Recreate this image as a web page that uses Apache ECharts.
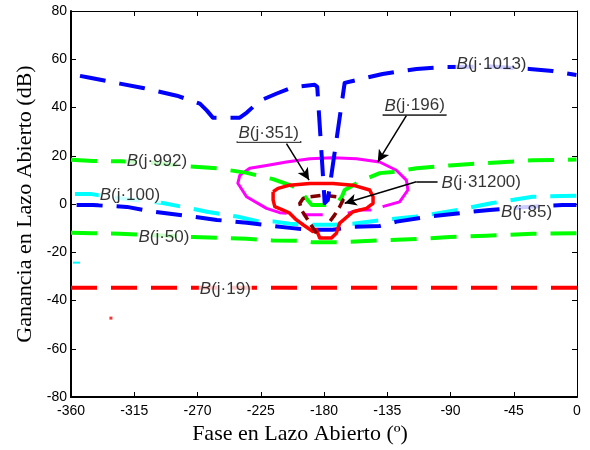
<!DOCTYPE html>
<html>
<head>
<meta charset="utf-8">
<script src="https://cdn.jsdelivr.net/npm/echarts@6/dist/echarts.min.js"></script>
<style>html,body{margin:0;padding:0;background:#fff}#c{width:590px;height:450px}</style>
</head>
<body>
<div id="c"></div>
<script>
// ---- Data (phase in degrees, gain in dB) ----
const xTicks = [-360, -315, -270, -225, -180, -135, -90, -45, 0];
const yTicks = [-80, -60, -40, -20, 0, 20, 40, 60, 80];

const bound1013 = [[-353.6,53.1],[-346.5,52.3],[-325.2,49.9],[-308.8,48.1],[-284.7,44.9],[-268.3,41.6],[-263.3,38.7],[-259.1,35.8],[-239.9,35.8],[-234.9,37.9],[-225.7,42.8],[-213.6,45.8],[-202.2,48.4],[-186.6,49.4],[-184.8,48.6],[-179.5,0.4],[-177.3,1.6],[-165.3,50.2],[-159.6,51.0],[-138.3,53.9],[-114.1,56.0],[-92.8,56.8],[-60.8,57.0],[-33.8,56.0],[-17.4,55.1],[-0.4,53.5]];
const bound992 = [[-360,18.3],[-344.4,17.8],[-325.2,17.7],[-300,17.0],[-276.8,15.6],[-256.2,14.8],[-234.9,12.9],[-216.4,10.3],[-202.2,7.4],[-197.2,5.8],[-191.6,1.6],[-188.7,-0.4],[-184.5,-0.4],[-178.1,-0.4],[-171.0,0.4],[-167.4,2.9],[-165.3,5.8],[-156.7,8.6],[-152.5,9.9],[-140.4,12.8],[-131.1,13.3],[-114.1,14.8],[-90.6,16.0],[-64.3,17.0],[-31.6,18.1],[-0.4,18.4]];
const bound100 = [[-357.2,4.1],[-345.3,4.1],[-320,2.0],[-294.6,0.4],[-280.4,-1.2],[-263.3,-3.2],[-242.0,-5.2],[-225.7,-7.3],[-215.0,-7.3],[-204.4,-8.2],[-188.0,-8.6],[-173.8,-8.6],[-159.6,-8.2],[-138.3,-6.6],[-114.3,-5.2],[-97.7,-3.7],[-81.4,-2.1],[-60.1,0.4],[-31.6,3.0],[-0.4,3.4]];
const bound85 = [[-356.0,-0.4],[-344.4,-0.4],[-320.2,-1.2],[-301.7,-3.2],[-277.6,-4.9],[-256.2,-6.6],[-234.9,-7.8],[-216.4,-9.1],[-204.4,-9.9],[-190.1,-10.7],[-173.8,-10.7],[-159.6,-9.5],[-140.4,-9.1],[-128.3,-7.3],[-104.8,-5.2],[-74.3,-3.2],[-62.2,-2.5],[-35.9,-1.2],[-10.3,-0.4],[-0.4,-0.4]];
const bound50 = [[-360,-11.9],[-344.4,-12.1],[-325.2,-12.3],[-300,-13.0],[-273.3,-13.7],[-256.2,-14.0],[-234.9,-14.4],[-216.4,-15.1],[-197.2,-15.2],[-188.0,-15.9],[-168.8,-15.9],[-140.4,-15.1],[-114.3,-14.5],[-90.6,-13.7],[-64.6,-13.2],[-31.6,-12.3],[-0.4,-12.1]];
const bound19 = [[-360,-34.7],[-270,-34.7],[-180,-34.7],[-90,-34.7],[0,-34.7]];
const bound196 = [[-206.5,-3.8],[-211.5,-3.6],[-220.9,-1.8],[-235.1,3.0],[-241.3,8.6],[-239.9,11.9],[-232.8,14.8],[-220.9,16.0],[-206.7,17.4],[-190.1,18.8],[-173.8,19.2],[-156.9,18.8],[-140.4,17.4],[-128.5,14.0],[-121.4,9.9],[-120.3,5.8],[-126.2,0.9],[-138.3,-1.1],null,[-146.3,-2.5],[-154.6,-2.5],[-163.1,-3.8],null,[-180.9,-4.5],[-195.1,-4.5]];
const bound351 = [[-216.2,5.1],[-212.7,6.5],[-204.4,7.8],[-190.1,8.5],[-173.6,8.5],[-159.4,7.8],[-147.5,5.8],[-145.1,3.0],[-145.1,0.3],[-149.8,-1.8],[-159.4,-3.2],[-168.8,-7.9],[-171.2,-12.1],[-174.7,-14.1],[-183.0,-14.1],[-185.4,-10.7],[-187.9,-11.4],[-194.9,-8.6],[-199.6,-6.6],[-204.4,-3.8],[-209.1,-2.5],[-215.0,-1.1],[-216.2,1.6],[-216.2,5.1]];
const bound31200 = [[-185.4,-12.1],[-190.1,-7.9],[-196.0,-2.5],[-197.2,0.3],[-194.9,2.3],[-190.1,3.0],[-180.7,3.7],[-171.2,3.0],[-166.5,1.6],[-168.8,-1.1],[-172.4,-4.5],[-175.9,-7.3]];
const strayCyan = [[-358.6,-24.3],[-353.6,-24.3]];
const strayRed = [[-331.6,-47.3]];

// label anchors: [phase, gain, text]
const labelItems = [
  [-60.8, 58.0, '(j·1013)'],
  [-298.9, 17.7, '(j·992)'],
  [-318.1, 3.7, '(j·100)'],
  [-35.9, -3.3, '(j·85)'],
  [-293.9, -13.8, '(j·50)'],
  [-250.2, -35.4, '(j·19)'],
  [-219.3, 29.2, '(j·351)'],
  [-115.5, 40.7, '(j·196)'],
  [-68.1, 8.8, '(j·31200)']
];
const underlines = [
  [[-242.2, 25.6], [-196.1, 25.6]],
  [[-138.3, 37.0], [-92.8, 37.0]],
  [[-99.2, 9.2], [-114.3, 9.2]]
];
const arrows = [
  [[-206.7, 25.0], [-190.6, 9.9]],
  [[-121.4, 36.6], [-141.8, 17.4]],
  [[-114.3, 9.2], [-165.3, 0.3]]
];

const SANS = 'Liberation Sans, Arial, sans-serif';
const SERIF = 'Liberation Serif, Times New Roman, serif';
const DASH = [26, 14];

function curve(name, data, color, width, dash, z) {
  return {
    name, type: 'line', data, showSymbol: false, symbol: 'none',
    connectNulls: false, z: z || 2, silent: true,
    lineStyle: { color, width, type: dash || 'solid', cap: 'butt', join: 'round' }
  };
}

const chart = echarts.init(document.getElementById('c'), null, { renderer: 'canvas' });
const axisCommon = {
  type: 'value', splitLine: { show: false },
  axisLine: { show: true, onZero: false, lineStyle: { color: '#000', width: 1 } },
  axisTick: { show: true, inside: true, length: 5, lineStyle: { color: '#000' } }
};
chart.setOption({
  animation: false,
  backgroundColor: '#fff',
  grid: { left: 71, right: 13, top: 11, bottom: 53, containLabel: false },
  xAxis: [
    Object.assign({}, axisCommon, {
      min: xTicks[0], max: xTicks[xTicks.length - 1], interval: 45, position: 'bottom',
      axisLine: { show: true, onZero: false, lineStyle: { color: '#000', width: 2 } },
      axisLabel: { color: '#000', fontSize: 14, fontFamily: SANS, margin: 7 },
      name: 'Fase en Lazo Abierto (º)', nameLocation: 'middle', nameGap: 24,
      nameTextStyle: { color: '#000', fontSize: 22, fontFamily: SERIF, padding: [0, 48, 0, 0], verticalAlign: 'top' }
    }),
    Object.assign({}, axisCommon, {
      min: xTicks[0], max: xTicks[xTicks.length - 1], interval: 45, position: 'top',
      axisLabel: { show: false }
    })
  ],
  yAxis: [
    Object.assign({}, axisCommon, {
      min: yTicks[0], max: yTicks[yTicks.length - 1], interval: 20, position: 'left',
      axisLine: { show: true, onZero: false, lineStyle: { color: '#000', width: 2 } },
      axisLabel: { color: '#000', fontSize: 14, fontFamily: SANS, margin: 4, padding: [6, 0, 0, 0] },
      name: 'Ganancia en Lazo Abierto (dB)', nameLocation: 'middle', nameGap: 35,
      nameTextStyle: { color: '#000', fontSize: 22, fontFamily: SERIF }
    }),
    Object.assign({}, axisCommon, {
      min: yTicks[0], max: yTicks[yTicks.length - 1], interval: 20, position: 'right',
      axisLabel: { show: false }
    })
  ],
  series: [
    curve('B(j·196)', bound196, '#ff00ff', 3, 'solid', 2),
    curve('B(j·992)', bound992, '#00ff00', 4, DASH, 3),
    curve('B(j·351)', bound351, '#ff0000', 3.5, 'solid', 4),
    curve('B(j·31200)', bound31200, '#800000', 3.5, [10, 6], 4),
    curve('B(j·100)', bound100, '#00ffff', 4, DASH, 3),
    curve('B(j·85)', bound85, '#0000ff', 4, DASH, 3),
    curve('B(j·50)', bound50, '#00ff00', 4, DASH, 3),
    curve('B(j·19)', bound19, '#ff0000', 4, DASH, 3),
    curve('B(j·1013)', bound1013, '#0000ff', 4, DASH, 5),
    curve('stray cyan', strayCyan, '#00ffff', 2, 'solid', 3),
    {
      type: 'scatter', data: strayRed, symbol: 'rect', symbolSize: 3, silent: true,
      itemStyle: { color: '#ff0000' }, z: 3
    },
    {
      type: 'line', data: [], silent: true, z: 8,
      markLine: {
        silent: true, animation: false,
        symbol: ['none', 'arrow'], symbolSize: [9, 12],
        label: { show: false },
        lineStyle: { color: '#000', width: 1.5, type: 'solid' },
        data: arrows.map(c => [{ coord: c[0] }, { coord: c[1] }])
      }
    },
    {
      type: 'line', data: [], silent: true, z: 8,
      markLine: {
        silent: true, animation: false,
        symbol: ['none', 'none'],
        label: { show: false },
        lineStyle: { color: '#000', width: 1.5, type: 'solid' },
        data: underlines.map(c => [{ coord: c[0] }, { coord: c[1] }])
      }
    },
    {
      type: 'scatter', data: labelItems, symbolSize: 0, silent: true, z: 9,
      label: {
        show: true, position: 'inside', color: '#000', fontSize: 17, fontFamily: SANS,
        backgroundColor: '#fff', padding: [0, 1],
        formatter: p => '{i|B}' + p.data[2],
        rich: { i: { fontStyle: 'italic', fontSize: 17, fontFamily: SANS, color: '#000' } }
      }
    }
  ]
});
</script>
</body>
</html>
